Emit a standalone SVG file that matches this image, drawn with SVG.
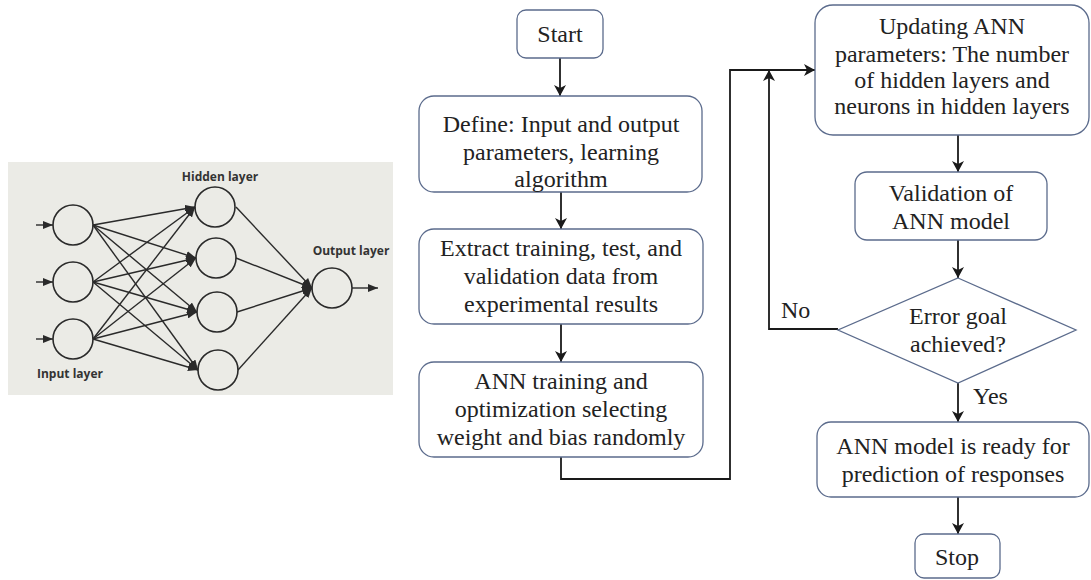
<svg xmlns="http://www.w3.org/2000/svg" width="1091" height="580" viewBox="0 0 1091 580">
<defs>
<style>
.box{fill:#fff;stroke:#5b6b8c;stroke-width:1.3}
.t{font-family:"Liberation Serif","Times New Roman",serif;font-size:24px;fill:#222;text-anchor:middle}
.lbl{font-family:"Liberation Serif","Times New Roman",serif;font-size:24px;fill:#222}
.conn{fill:none;stroke:#1a1a1a;stroke-width:1.8}
.nn{fill:none;stroke:#2a2a2a;stroke-width:1.4}
.neuron{fill:none;stroke:#2a2a2a;stroke-width:1.6}
.nnl{font-family:"Open Sans","DejaVu Sans",sans-serif;font-weight:bold;font-size:12px;fill:#333}
</style>
<marker id="fa" markerWidth="12" markerHeight="12" refX="11" refY="6" orient="auto" markerUnits="userSpaceOnUse">
<path d="M0,0 L11,6 L0,12 L3,6 z" fill="#1a1a1a"/>
</marker>
<marker id="na" markerWidth="10" markerHeight="8" refX="10" refY="4" orient="auto" markerUnits="userSpaceOnUse">
<path d="M0,0 L10,4 L0,8 z" fill="#2a2a2a"/>
</marker>
</defs>

<g id="ann-figure">
<rect x="8" y="162" width="385" height="233" fill="#ebebe6"/>
<g id="nn-links">
<line class="nn" x1="36" y1="225" x2="53" y2="225" marker-end="url(#na)"/>
<line class="nn" x1="36" y1="282" x2="53" y2="282" marker-end="url(#na)"/>
<line class="nn" x1="36" y1="339" x2="53" y2="339" marker-end="url(#na)"/>
<line class="nn" x1="93" y1="225" x2="195" y2="207" marker-end="url(#na)"/>
<line class="nn" x1="93" y1="225" x2="196" y2="258" marker-end="url(#na)"/>
<line class="nn" x1="93" y1="225" x2="197" y2="312" marker-end="url(#na)"/>
<line class="nn" x1="93" y1="225" x2="198" y2="370" marker-end="url(#na)"/>
<line class="nn" x1="93" y1="282" x2="195" y2="207" marker-end="url(#na)"/>
<line class="nn" x1="93" y1="282" x2="196" y2="258" marker-end="url(#na)"/>
<line class="nn" x1="93" y1="282" x2="197" y2="312" marker-end="url(#na)"/>
<line class="nn" x1="93" y1="282" x2="198" y2="370" marker-end="url(#na)"/>
<line class="nn" x1="93" y1="339" x2="195" y2="207" marker-end="url(#na)"/>
<line class="nn" x1="93" y1="339" x2="196" y2="258" marker-end="url(#na)"/>
<line class="nn" x1="93" y1="339" x2="197" y2="312" marker-end="url(#na)"/>
<line class="nn" x1="93" y1="339" x2="198" y2="370" marker-end="url(#na)"/>
<line class="nn" x1="236" y1="207" x2="312" y2="288" marker-end="url(#na)"/>
<line class="nn" x1="236" y1="258" x2="312" y2="288" marker-end="url(#na)"/>
<line class="nn" x1="237" y1="312" x2="312" y2="288" marker-end="url(#na)"/>
<line class="nn" x1="238" y1="370" x2="312" y2="288" marker-end="url(#na)"/>
<line class="nn" x1="352" y1="288" x2="378" y2="288" marker-end="url(#na)"/>
</g>
<circle class="neuron" cx="73" cy="225" r="20"/>
<circle class="neuron" cx="73" cy="282" r="20"/>
<circle class="neuron" cx="73" cy="339" r="20"/>
<circle class="neuron" cx="215" cy="207" r="20"/>
<circle class="neuron" cx="216" cy="258" r="20"/>
<circle class="neuron" cx="217" cy="312" r="20"/>
<circle class="neuron" cx="218" cy="370" r="20"/>
<circle class="neuron" cx="332" cy="288" r="20"/>
<text class="nnl" x="220" y="181" text-anchor="middle">Hidden layer</text>
<text class="nnl" x="351" y="255" text-anchor="middle">Output layer</text>
<text class="nnl" x="37" y="378">Input layer</text>
</g>

<g id="connectors">
<line class="conn" x1="560" y1="58" x2="560" y2="96" marker-end="url(#fa)"/>
<line class="conn" x1="561" y1="192" x2="561" y2="229" marker-end="url(#fa)"/>
<line class="conn" x1="561" y1="324" x2="561" y2="362" marker-end="url(#fa)"/>
<polyline class="conn" points="561,457 561,479 730,479 730,70 815,70" marker-end="url(#fa)"/>
<polyline class="conn" points="838,329 769,329 769,70" marker-end="url(#fa)"/>
<line class="conn" x1="958" y1="135" x2="958" y2="172" marker-end="url(#fa)"/>
<line class="conn" x1="958" y1="240" x2="958" y2="278" marker-end="url(#fa)"/>
<line class="conn" x1="958" y1="383" x2="958" y2="422" marker-end="url(#fa)"/>
<line class="conn" x1="958" y1="497" x2="958" y2="534" marker-end="url(#fa)"/>
<text class="lbl" x="781" y="318">No</text>
<text class="lbl" x="973" y="404">Yes</text>
</g>

<g id="start">
<rect class="box" x="517" y="10" width="86" height="48" rx="9"/>
<text class="t" x="560" y="42">Start</text>
</g>

<g id="define">
<rect class="box" x="419" y="96" width="283" height="96" rx="15"/>
<text class="t" x="561" y="132">Define: Input and output</text>
<text class="t" x="561" y="160">parameters, learning</text>
<text class="t" x="561" y="187">algorithm</text>
</g>

<g id="extract">
<rect class="box" x="419" y="229" width="284" height="95" rx="15"/>
<text class="t" x="561" y="256">Extract training, test, and</text>
<text class="t" x="561" y="284">validation data from</text>
<text class="t" x="561" y="312">experimental results</text>
</g>

<g id="training">
<rect class="box" x="419" y="362" width="284" height="95" rx="15"/>
<text class="t" x="561" y="389">ANN training and</text>
<text class="t" x="561" y="417">optimization selecting</text>
<text class="t" x="561" y="445">weight and bias randomly</text>
</g>

<g id="updating">
<rect class="box" x="815" y="5" width="274" height="130" rx="18"/>
<text class="t" x="952" y="34">Updating ANN</text>
<text class="t" x="952" y="62">parameters: The number</text>
<text class="t" x="952" y="88">of hidden layers and</text>
<text class="t" x="952" y="114">neurons in hidden layers</text>
</g>

<g id="validation">
<rect class="box" x="855" y="172" width="192" height="68" rx="12"/>
<text class="t" x="951" y="201">Validation of</text>
<text class="t" x="951" y="229">ANN model</text>
</g>

<g id="decision">
<polygon class="box" points="958,278 1076,330 958,383 838,330"/>
<text class="t" x="958" y="324">Error goal</text>
<text class="t" x="958" y="352">achieved?</text>
</g>

<g id="ready">
<rect class="box" x="817" y="422" width="272" height="75" rx="14"/>
<text class="t" x="953" y="454">ANN model is ready for</text>
<text class="t" x="953" y="482">prediction of responses</text>
</g>

<g id="stop">
<rect class="box" x="915" y="534" width="85" height="44" rx="9"/>
<text class="t" x="957" y="565">Stop</text>
</g>
</svg>
